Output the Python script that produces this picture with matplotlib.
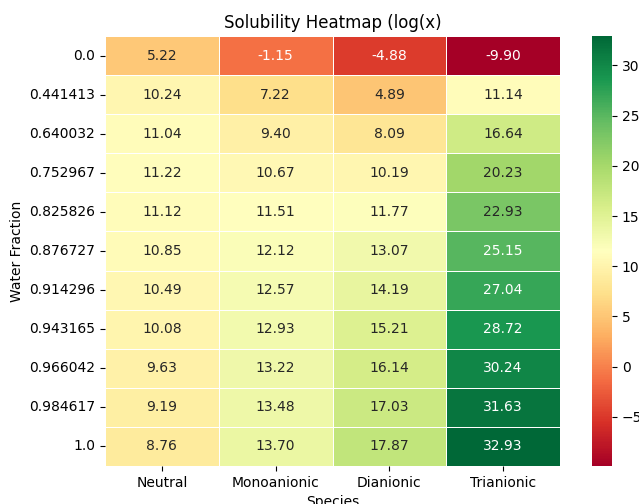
import matplotlib
matplotlib.use('Agg')
import matplotlib.pyplot as plt
import seaborn as sns
import numpy as np
import pandas as pd

species = ['Neutral', 'Monoanionic', 'Dianionic', 'Trianionic']
water_fraction = ['0.0', '0.441413', '0.640032', '0.752967', '0.825826', '0.876727',
                  '0.914296', '0.943165', '0.966042', '0.984617', '1.0']

neutral = [5.22, 10.24, 11.04, 11.22, 11.12, 10.85, 10.49, 10.08, 9.63, 9.19, 8.76]
monoanionic = [-1.15, 7.22, 9.40, 10.67, 11.51, 12.12, 12.57, 12.93, 13.22, 13.48, 13.70]
dianionic = [-4.88, 4.89, 8.09, 10.19, 11.77, 13.07, 14.19, 15.21, 16.14, 17.03, 17.87]
trianionic = [-9.90, 11.14, 16.64, 20.23, 22.93, 25.15, 27.04, 28.72, 30.24, 31.63, 32.93]

df = pd.DataFrame({'Neutral': neutral, 'Monoanionic': monoanionic,
                   'Dianionic': dianionic, 'Trianionic': trianionic},
                  index=water_fraction)

fig = plt.figure(figsize=(6.39, 5.04), dpi=100)
ax = fig.add_axes([105 / 639, 1 - 466 / 504, 455 / 639, 430 / 504])
cax = fig.add_axes([592 / 639, 1 - 466 / 504, 20 / 639, 430 / 504])

sns.heatmap(df, annot=True, fmt='.2f', cmap='RdYlGn', linewidths=0.5,
            linecolor='white', ax=ax, cbar_ax=cax)

ax.set_title('Solubility Heatmap (log(x)')
ax.set_xlabel('Species')
ax.set_ylabel('Water Fraction')
ax.tick_params(axis='y', rotation=0)

fig.savefig('out.png', dpi=100)
